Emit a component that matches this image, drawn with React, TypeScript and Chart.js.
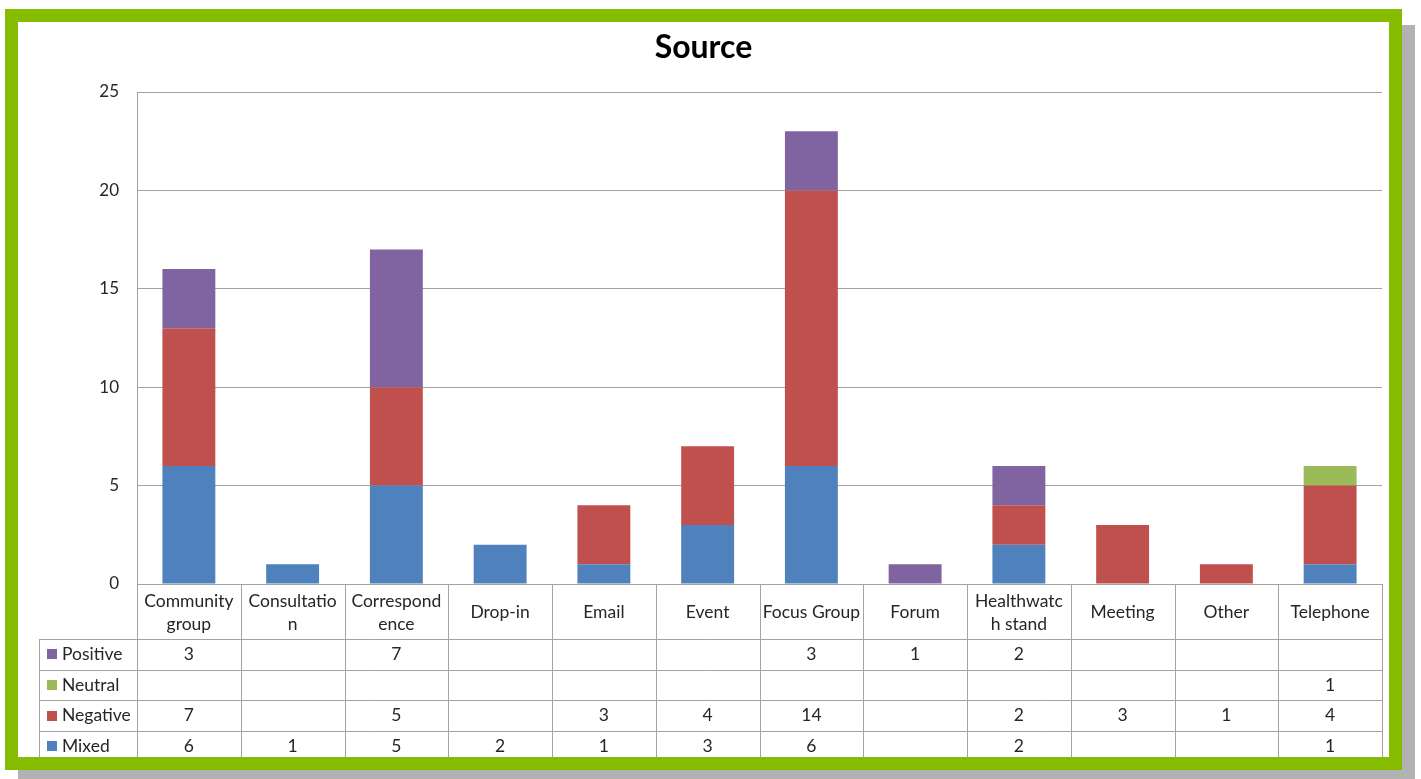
import React, { useEffect, useRef } from "react";
import { Chart, registerables } from "chart.js";

Chart.register(...registerables);

const categories = [
  "Community group", "Consultation", "Correspondence", "Drop-in", "Email", "Event",
  "Focus Group", "Forum", "Healthwatch stand", "Meeting", "Other", "Telephone",
];
const categoryLines = [
  ["Community", "group"], ["Consultatio", "n"], ["Correspond", "ence"], ["Drop-in"], ["Email"], ["Event"],
  ["Focus Group"], ["Forum"], ["Healthwatc", "h stand"], ["Meeting"], ["Other"], ["Telephone"],
];
const positive = [3, null, 7, null, null, null, 3, 1, 2, null, null, null];
const neutral = [null, null, null, null, null, null, null, null, null, null, null, 1];
const negative = [7, null, 5, null, 3, 4, 14, null, 2, 3, 1, 4];
const mixed = [6, 1, 5, 2, 1, 3, 6, null, 2, null, null, 1];

const yTicks = [0, 5, 10, 15, 20, 25];
const title = "Source";

const COLORS = { positive: "#8064A2", neutral: "#9BBB59", negative: "#C0504D", mixed: "#4F81BD" };
const FONT = "Lato, 'Open Sans', sans-serif";
const TEXT = "#262626";
const LINE = "#A3A3A3";

const tableRows = [
  { label: "Positive", data: positive, color: COLORS.positive },
  { label: "Neutral", data: neutral, color: COLORS.neutral },
  { label: "Negative", data: negative, color: COLORS.negative },
  { label: "Mixed", data: mixed, color: COLORS.mixed },
];

const tablePlugin = {
  id: "dataTable",
  afterDraw(chart: any) {
    const ctx = chart.ctx;
    const area = chart.chartArea;
    const xs = chart.scales.x;
    const n = categories.length;
    const cw = (area.right - area.left) / n;
    const catTop = area.bottom;
    const catBottom = catTop + 55;
    const rowH = 30.7;
    const legendLeft = 21;
    const tableBottom = catBottom + rowH * 4;
    ctx.save();
    // title
    ctx.fillStyle = "#000";
    ctx.font = `bold 32px ${FONT}`;
    ctx.textAlign = "center";
    ctx.textBaseline = "middle";
    ctx.fillText(title, chart.width / 2, 26);

    // lines
    ctx.strokeStyle = LINE;
    ctx.lineWidth = 1;
    ctx.beginPath();
    ctx.moveTo(area.left, catTop + 0.5);
    ctx.lineTo(area.right, catTop + 0.5);
    for (let r = 0; r <= 4; r++) {
      const y = Math.round(catBottom + r * rowH) + 0.5;
      ctx.moveTo(legendLeft, y);
      ctx.lineTo(area.right, y);
    }
    ctx.moveTo(legendLeft + 0.5, catBottom);
    ctx.lineTo(legendLeft + 0.5, tableBottom);
    for (let i = 0; i <= n; i++) {
      const x = Math.round(area.left + i * cw) + 0.5;
      ctx.moveTo(x, i === 0 ? area.top : catTop);
      ctx.lineTo(x, tableBottom);
    }
    ctx.stroke();

    // category labels
    ctx.fillStyle = TEXT;
    ctx.font = `17.5px ${FONT}`;
    ctx.textAlign = "center";
    for (let i = 0; i < n; i++) {
      const cx = xs.getPixelForValue(i);
      const lines = categoryLines[i];
      if (lines.length === 1) {
        ctx.fillText(lines[0], cx, catTop + 28);
      } else {
        ctx.fillText(lines[0], cx, catTop + 17);
        ctx.fillText(lines[1], cx, catTop + 40);
      }
    }
    // rows
    tableRows.forEach((row, r) => {
      const cy = catBottom + r * rowH + rowH / 2;
      ctx.fillStyle = row.color;
      ctx.fillRect(legendLeft + 8, Math.round(cy - 5), 10, 10);
      ctx.fillStyle = TEXT;
      ctx.textAlign = "left";
      ctx.fillText(row.label, legendLeft + 23, cy);
      ctx.textAlign = "center";
      row.data.forEach((v, i) => {
        if (v !== null && v !== undefined) {
          ctx.fillText(String(v), xs.getPixelForValue(i), cy);
        }
      });
    });
    ctx.restore();
  },
};

export default function App() {
  const ref = useRef<HTMLCanvasElement | null>(null);
  useEffect(() => {
    if (!ref.current) return;
    const chart = new Chart(ref.current, {
      type: "bar",
      data: {
        labels: categories,
        datasets: [
          { label: "Mixed", data: mixed, backgroundColor: COLORS.mixed },
          { label: "Negative", data: negative, backgroundColor: COLORS.negative },
          { label: "Neutral", data: neutral, backgroundColor: COLORS.neutral },
          { label: "Positive", data: positive, backgroundColor: COLORS.positive },
        ],
      },
      options: {
        responsive: false,
        animation: false,
        layout: { padding: { left: 0, top: 70, right: 7, bottom: 173 } },
        datasets: { bar: { categoryPercentage: 0.51, barPercentage: 1 } },
        plugins: { legend: { display: false }, title: { display: false }, tooltip: { enabled: false } },
        scales: {
          x: { stacked: true, display: false },
          y: {
            stacked: true,
            min: 0,
            max: 25,
            afterBuildTicks: (axis: any) => {
              axis.ticks = yTicks.map((v) => ({ value: v }));
            },
            afterFit: (axis: any) => {
              axis.width = 119;
            },
            grid: { color: LINE, drawTicks: false },
            border: { display: true, color: LINE },
            ticks: { padding: 18, color: TEXT, font: { family: FONT, size: 17 } },
          },
        },
      },
      plugins: [tablePlugin],
    });
    return () => chart.destroy();
  }, []);
  return (
    <div
      style={{
        position: "absolute",
        left: 5,
        top: 9,
        width: 1371,
        height: 735,
        border: "13px solid #86BC00",
        boxShadow: "13px 16px 0 #B2B2B2",
        background: "#fff",
      }}
    >
      <canvas ref={ref} width={1371} height={735} style={{ display: "block", width: 1371, height: 735 }} />
    </div>
  );
}
